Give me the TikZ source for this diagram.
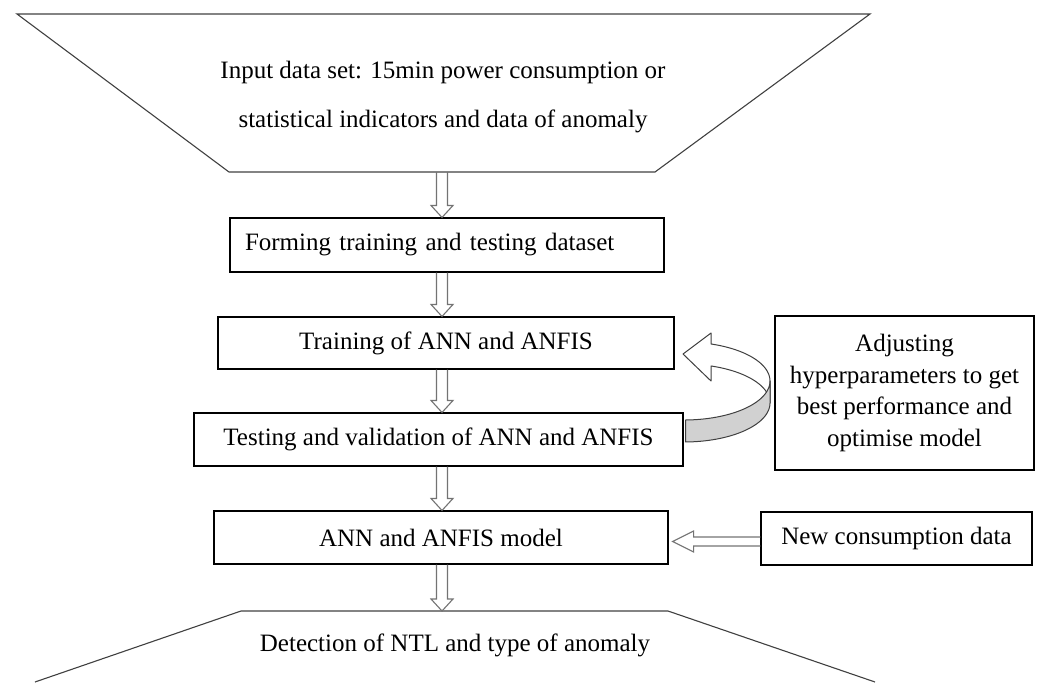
\documentclass[tikz,border=0pt]{standalone}
\usepackage{fontspec}
\setmainfont{Liberation Serif}
\usetikzlibrary{calc}

% hollow block arrow pointing down, from #1 (shaft start) to #2 (tip)
\newcommand\blockdown[2]{%
  \draw[blockarrow] let \p1=(#1), \p2=(#2) in
    (\x1-5.5pt,\y1) -- (\x1-5.5pt,\y2+12pt) -- (\x1-11pt,\y2+12pt) -- (\x1,\y2)
    -- (\x1+11pt,\y2+12pt) -- (\x1+5.5pt,\y2+12pt) -- (\x1+5.5pt,\y1);}

% hollow block arrow pointing left, from #1 (shaft start) to #2 (tip)
\newcommand\blockleft[2]{%
  \draw[blockarrow] let \p1=(#1), \p2=(#2) in
    (\x1,\y1+4.5pt) -- (\x2+21pt,\y1+4.5pt) -- (\x2+21pt,\y1+10.5pt) -- (\x2,\y1)
    -- (\x2+21pt,\y1-10.5pt) -- (\x2+21pt,\y1-4.5pt) -- (\x1,\y1-4.5pt);}

\begin{document}
\begin{tikzpicture}[x=1pt,y=-1pt,
  font=\fontsize{25}{30}\selectfont,
  box/.style={draw=black, line width=1.1pt, inner sep=0pt, align=center},
  blockarrow/.style={draw=black!55, line width=1.1pt, line join=miter},
  edge/.style={draw=black!75, line width=1.1pt},
  ribbon/.style={draw=black!75, line width=1pt, line join=round}]

\useasboundingbox (0,0) rectangle (1040,682);

% input data set (inverted trapezoid)
\draw[edge] (17,14) -- (870,14) -- (655,172) -- (229,172) -- cycle;
\node[inner sep=0pt, align=center, font=\fontsize{25}{49}\selectfont] (input) at (443,96.7)
  {Input data set: 15min power consumption or\\statistical indicators and data of anomaly};

% process boxes
\node[box, minimum width=434pt, minimum height=54pt, text width=404pt, align=left] (form) at (447,245)
  {Forming training and testing dataset};
\node[box, minimum width=456pt, minimum height=52pt] (train) at (446,343) {Training of ANN and ANFIS};
\node[box, minimum width=489pt, minimum height=53pt] (test) at (438.5,439.5) {Testing and validation of ANN and ANFIS};
\node[box, minimum width=454pt, minimum height=53pt] (model) at (441,537.5) {ANN and ANFIS model};
\node[box, minimum width=271pt, minimum height=53pt] (newdata) at (896.5,538.5) {New consumption data};
\node[box, minimum width=259pt, minimum height=154pt, font=\fontsize{25}{31.7}\selectfont] (adjust) at (904.5,393)
  {Adjusting\\hyperparameters to get\\best performance and\\optimise model};

% output (trapezoid running off the bottom)
\draw[edge] (35,682) -- (241,611) -- (668,611) -- (875,682);
\node[inner sep=0pt, anchor=base] (detect) at (455,651.5) {Detection of NTL and type of anomaly};

% connector axis and free ends
\coordinate (ax) at (442,0);
\coordinate (ay) at (0,541.5);
\coordinate (inbot) at (442,172);
\coordinate (outtop) at (442,611);
\coordinate (mtip) at ($(model.east |- ay)+(4,0)$);

\blockdown{inbot}{form.north -| ax}
\blockdown{form.south -| ax}{train.north -| ax}
\blockdown{train.south -| ax}{test.north -| ax}
\blockdown{test.south -| ax}{model.north -| ax}
\blockdown{model.south -| ax}{outtop}
\blockleft{newdata.west |- ay}{mtip}

% curved feedback arrow: back face with head, then shaded front face
\filldraw[ribbon, fill=white]
  plot[domain=0:71.7, samples=40, variable=\t] ({684+86*cos(\t)},{381-39*sin(\t)})
  -- (711,333) -- (683,354) -- (711,381)
  -- plot[domain=71.7:0, samples=40, variable=\t] ({684+86*cos(\t)},{403-39*sin(\t)})
  -- cycle;
\filldraw[ribbon, fill=black!18]
  plot[domain=0:-89, samples=40, variable=\t] ({684+86*cos(\t)},{381-39*sin(\t)})
  -- plot[domain=-89:0, samples=40, variable=\t] ({684+86*cos(\t)},{403-39*sin(\t)})
  -- cycle;
\end{tikzpicture}
\end{document}
